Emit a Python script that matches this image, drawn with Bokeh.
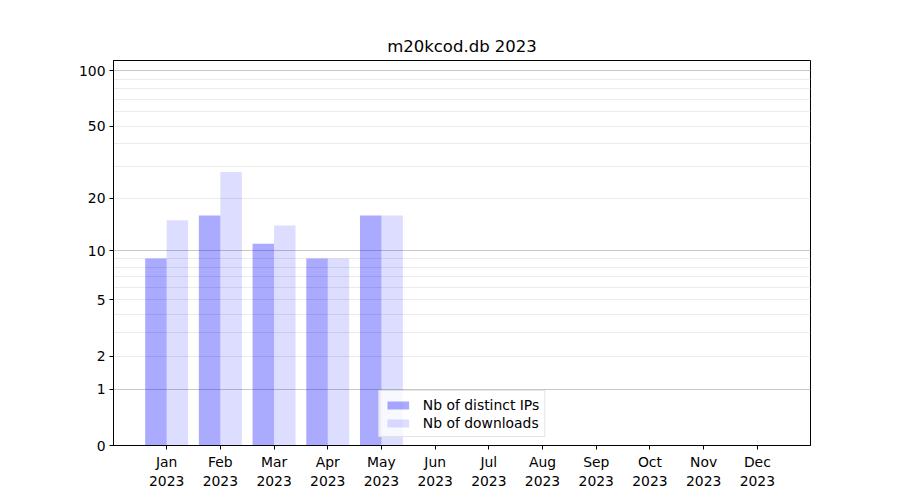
import numpy as np
from bokeh.plotting import figure
from bokeh.models import FixedTicker, Grid, Legend, LegendItem, Range1d, ColumnDataSource
from bokeh.embed import file_html
from bokeh.resources import INLINE

months = ["Jan", "Feb", "Mar", "Apr", "May", "Jun", "Jul", "Aug", "Sep", "Oct", "Nov", "Dec"]
year = "2023"
distinct_ips = [9, 16, 11, 9, 16, 0, 0, 0, 0, 0, 0, 0]
downloads = [15, 28, 14, 9, 16, 0, 0, 0, 0, 0, 0, 0]
y_tick_values = [0, 1, 2, 5, 10, 20, 50, 100]
y_major_grid = [1, 10, 100]
y_minor_grid = [2, 3, 4, 5, 6, 7, 8, 9, 20, 30, 40, 50, 60, 70, 80, 90]
y_top = 113.5

def tr(v):
    return float(np.log10(1.0 + np.asarray(v, dtype=float)))

xs = list(range(len(months)))
src = ColumnDataSource(dict(
    x_ip=[x - 0.2 for x in xs],
    x_dl=[x + 0.2 for x in xs],
    ip=[tr(v) for v in distinct_ips],
    dl=[tr(v) for v in downloads],
))

p = figure(width=892, height=492, output_backend="svg", toolbar_location=None,
           frame_width=697, frame_height=385,
           min_border_left=113, min_border_right=82, min_border_top=60, min_border_bottom=47,
           x_range=Range1d(-0.99, 11.99), y_range=Range1d(0, tr(y_top)),
           title="m20kcod.db 2023")
p.title.align = "center"
p.title.text_font = "DejaVu Sans"
p.title.text_font_size = "16.5px"
p.title.text_font_style = "normal"
p.title.text_color = "black"

p.xgrid.visible = False
p.ygrid.visible = False

minor = Grid(dimension=1, ticker=FixedTicker(ticks=[tr(v) for v in y_minor_grid]),
             grid_line_color="#ebebeb", grid_line_width=1)
major = Grid(dimension=1, ticker=FixedTicker(ticks=[tr(v) for v in y_major_grid]),
             grid_line_color="#c8c8c8", grid_line_width=1)
p.add_layout(minor)
p.add_layout(major)

r1 = p.vbar(x="x_ip", top="ip", bottom=0, width=0.4, source=src,
            fill_color="blue", fill_alpha=1/3, line_color=None)
r2 = p.vbar(x="x_dl", top="dl", bottom=0, width=0.4, source=src,
            fill_color="blue", fill_alpha=0.133, line_color=None)

p.xaxis.ticker = FixedTicker(ticks=xs)
p.xaxis.major_label_overrides = {i: f"{m}\n{year}" for i, m in enumerate(months)}
p.yaxis.ticker = FixedTicker(ticks=[tr(v) for v in y_tick_values])
p.yaxis.major_label_overrides = {tr(v): str(v) for v in y_tick_values}

for ax in (p.xaxis[0], p.yaxis[0]):
    ax.major_tick_in = 0
    ax.major_tick_out = 4
    ax.minor_tick_in = 0
    ax.minor_tick_out = 0
    ax.axis_line_color = "black"
    ax.major_tick_line_color = "black"
    ax.major_label_text_font = "DejaVu Sans"
    ax.major_label_text_font_size = "13.9px"
    ax.major_label_text_color = "black"
    ax.major_label_standoff = 4

p.outline_line_color = "black"
p.outline_line_alpha = 1

legend = Legend(items=[LegendItem(label="Nb of distinct IPs", renderers=[r1]),
                       LegendItem(label="Nb of downloads", renderers=[r2])],
                location="bottom_center")
legend.margin = 8
legend.padding = 5
legend.spacing = 1
legend.label_height = 17
legend.glyph_width = 27
legend.glyph_height = 10
legend.label_standoff = 12
legend.label_text_font = "DejaVu Sans"
legend.label_text_font_size = "13.9px"
legend.label_text_color = "black"
legend.border_line_color = "#cccccc"
legend.background_fill_alpha = 0.8
p.add_layout(legend)

open("out.html", "w").write(file_html(p, INLINE))
